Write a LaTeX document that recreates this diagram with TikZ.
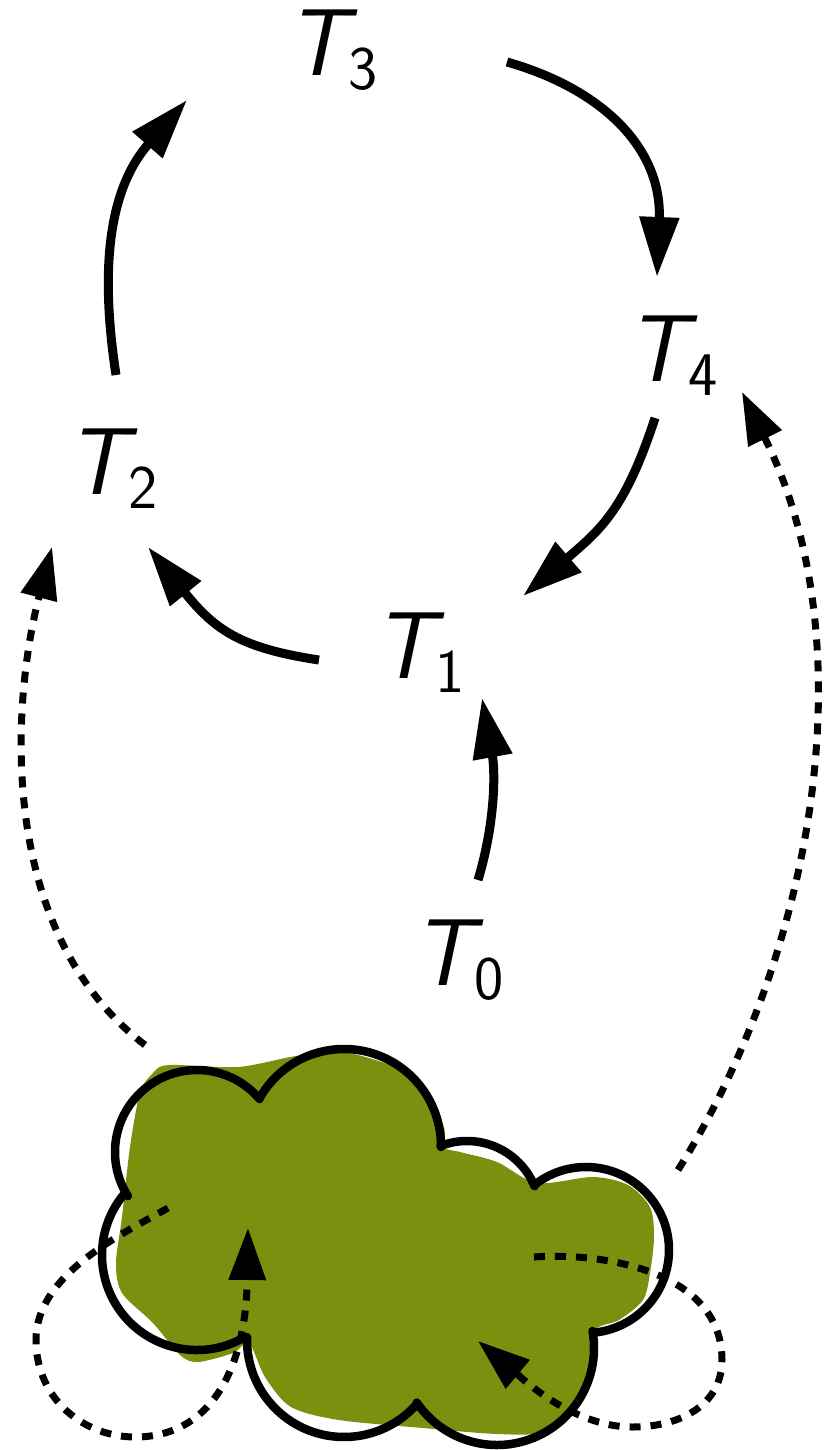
\documentclass[tikz,border=0pt]{standalone}
\usepackage{fontspec}
\usetikzlibrary{arrows.meta}
\definecolor{blob}{RGB}{122,145,16}
\newcommand{\TLabel}[1]{\fontsize{95}{95}\selectfont\sffamily\slshape T\kern2pt\raisebox{-14pt}{\fontsize{62}{62}\selectfont\upshape #1}}
\tikzset{
  lab/.style={inner sep=0pt,outer sep=0pt,anchor=base west},
  solidarrow/.style={-{Triangle[length=60pt,width=38pt]},line width=9pt},
  dotarrow/.style={-{Triangle[length=52pt,width=36pt]},line width=7pt,dash pattern=on 11pt off 10pt},
  cloudline/.style={line width=8.5pt,line cap=round},
}
\begin{document}
\begin{tikzpicture}[x=1pt,y=-1pt]
\useasboundingbox (0,0) rectangle (824,1450);
% labels
\node[lab] (T0) at (412,985) {\TLabel{0}};
\node[lab] (T1) at (373,678) {\TLabel{1}};
\node[lab] (T2) at (66,494) {\TLabel{2}};
\node[lab] (T3) at (286,76) {\TLabel{3}};
\node[lab] (T4) at (626,381) {\TLabel{4}};
% blob
\fill[blob] plot[smooth cycle,tension=0.5] coordinates {
 (169,1065) (238,1067) (296,1056) (344,1052) (410,1075) (443,1125) (444,1147) (460,1152) (497,1162)
 (537,1183) (593,1177) (628,1185) (650,1207) (654,1237) (650,1273) (643,1300) (619,1320) (595,1330)
 (590,1363) (574,1407) (545,1432) (497,1434) (423,1428) (339,1420) (291,1407) (265,1377) (249,1343)
 (233,1353) (198,1362) (180,1355) (153,1323) (122,1293) (116,1263) (122,1217) (130,1147) (140,1093) (153,1073)};
% free ends
\coordinate (a0) at (478,880);  \coordinate (a1) at (482,698);
\coordinate (b0) at (319,660);  \coordinate (b1) at (148,547);
\coordinate (c0) at (116,375);  \coordinate (c1) at (187,100);
\coordinate (d0) at (507,62);   \coordinate (d1) at (657,277);
\coordinate (e0) at (655,418);  \coordinate (e1) at (523,596);
\coordinate (f0) at (145,1045); \coordinate (f1) at (52,547);
\coordinate (g0) at (678,1170); \coordinate (g1) at (742,392);
\coordinate (h0) at (168,1208); \coordinate (h1) at (248,1228);
\coordinate (i0) at (534,1257); \coordinate (i1) at (478,1341);
% solid arrows
\draw[solidarrow] (a0) .. controls (496,820) and (495,770) .. (a1);
\draw[solidarrow] (b0) .. controls (240,648) and (215,630) .. (b1);
\draw[solidarrow] (c0) .. controls (100,270) and (108,190) .. (c1);
\draw[solidarrow] (d0) .. controls (605,90) and (662,150) .. (d1);
\draw[solidarrow] (e0) .. controls (625,510) and (600,530) .. (e1);
% dotted arrows
\draw[dotarrow] (f0) .. controls (-5,930) and (12,700) .. (f1);
\draw[dotarrow] (g0) .. controls (810,960) and (870,650) .. (g1);
\draw[dotarrow] (h0) .. controls (120,1235) and (36,1275) .. (36,1340)
  .. controls (36,1400) and (85,1437) .. (135,1437)
  .. controls (210,1437) and (246,1370) .. (h1);
\draw[dotarrow] (i0) .. controls (600,1252) and (722,1270) .. (722,1360)
  .. controls (722,1405) and (680,1427) .. (632,1427)
  .. controls (570,1427) and (515,1372) .. (i1);
% cloud
\foreach \cx/\cy/\r/\sa/\ea in {
  197/1152/82/212.5/40.2,
  344/1146/97/150/-0.6,
  467/1214/73/111.2/22.4,
  586/1250/83/128/-85,
  497/1348/97/10.1/-145.8,
  344/1340/97/-41.2/-181.7,
  197/1255/95/-59.7/-220.5}{
  \draw[cloudline] (\cx,\cy) ++(\sa:\r pt) arc[start angle=\sa,end angle=\ea,radius=\r pt];
}
\end{tikzpicture}
\end{document}
